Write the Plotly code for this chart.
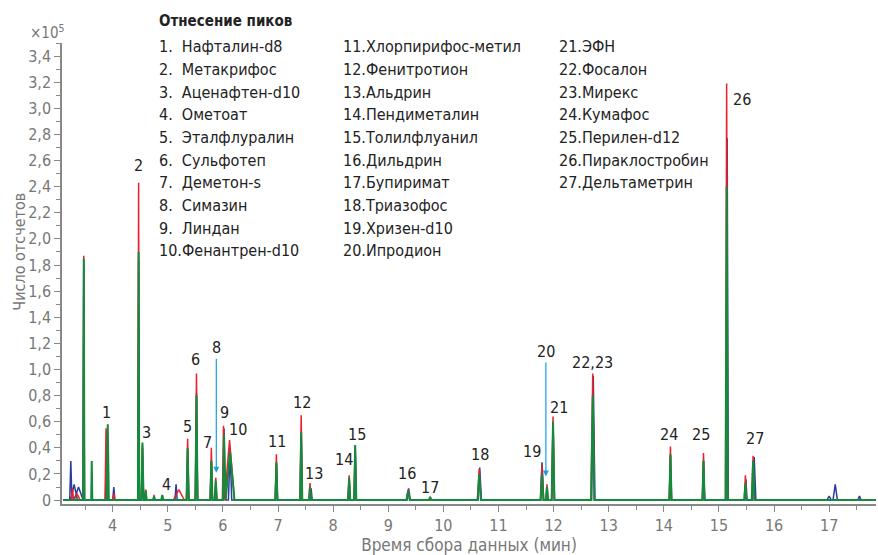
import plotly.graph_objects as go

# ---------------- data ----------------
# Peak tables per trace: retention time (min), height (x10^5 counts), half-width (min)
blue_rt = [3.24, 3.30, 3.38, 3.475, 3.89, 4.02, 4.47, 4.54, 5.15, 5.36, 5.52, 5.79, 6.02, 6.13,
           6.97, 7.42, 7.60, 8.29, 8.40, 9.37, 10.66, 11.79, 11.99, 12.72, 14.12, 14.72, 15.15,
           15.49, 15.64, 17.00, 17.11, 17.55]
blue_h = [0.30, 0.12, 0.10, 1.80, 0.53, 0.10, 1.83, 0.40, 0.12, 0.38, 0.82, 0.30, 0.55, 0.39,
          0.28, 0.50, 0.09, 0.17, 0.42, 0.09, 0.25, 0.29, 0.58, 0.95, 0.34, 0.30, 2.77,
          0.16, 0.33, 0.03, 0.12, 0.03]
blue_w = [0.02, 0.06, 0.08, 0.012, 0.02, 0.02, 0.012, 0.02, 0.02, 0.02, 0.02, 0.02, 0.02, 0.03,
          0.02, 0.02, 0.02, 0.02, 0.02, 0.03, 0.03, 0.03, 0.025, 0.03, 0.02, 0.02, 0.02,
          0.02, 0.03, 0.04, 0.04, 0.03]

red_rt = [3.27, 3.35, 3.475, 3.88, 4.02, 4.47, 4.54, 4.60, 4.75, 5.20, 5.36, 5.52, 5.79, 5.87,
          6.01, 6.12, 6.97, 7.42, 7.58, 8.29, 8.40, 9.36, 10.65, 11.79, 11.88, 11.99, 12.71,
          14.12, 14.72, 15.14, 15.48, 15.62]
red_h = [0.09, 0.05, 1.87, 0.55, 0.05, 2.43, 0.42, 0.08, 0.04, 0.08, 0.47, 0.97, 0.40, 0.17,
         0.57, 0.46, 0.35, 0.65, 0.13, 0.19, 0.40, 0.08, 0.24, 0.27, 0.12, 0.64, 0.97,
         0.41, 0.36, 3.19, 0.19, 0.34]
red_w = [0.02, 0.06, 0.012, 0.02, 0.02, 0.012, 0.02, 0.015, 0.015, 0.1, 0.02, 0.02, 0.02, 0.02,
         0.02, 0.09, 0.02, 0.02, 0.02, 0.02, 0.02, 0.03, 0.03, 0.025, 0.02, 0.025, 0.03,
         0.02, 0.02, 0.02, 0.02, 0.025]

green_rt = [3.475, 3.62, 3.91, 4.47, 4.54, 4.60, 4.75, 4.90, 5.36, 5.52, 5.79, 5.87, 6.02, 6.13,
            6.97, 7.42, 7.58, 8.29, 8.40, 9.36, 9.76, 10.65, 11.79, 11.88, 11.99, 12.71, 14.12,
            14.72, 15.14, 15.48, 15.62]
green_h = [1.85, 0.30, 0.58, 1.90, 0.44, 0.07, 0.03, 0.04, 0.40, 0.80, 0.30, 0.15, 0.50, 0.37,
           0.29, 0.52, 0.10, 0.17, 0.42, 0.07, 0.02, 0.20, 0.20, 0.10, 0.60, 0.80, 0.35,
           0.30, 2.40, 0.13, 0.30]
green_w = [0.012, 0.01, 0.02, 0.012, 0.02, 0.015, 0.015, 0.02, 0.02, 0.02, 0.02, 0.02, 0.02, 0.08,
           0.02, 0.02, 0.02, 0.02, 0.02, 0.03, 0.03, 0.03, 0.025, 0.02, 0.025, 0.03, 0.02,
           0.02, 0.02, 0.02, 0.025]

peak_labels = ["1", "2", "3", "4", "5", "6", "7", "9", "10", "11", "12", "13", "14", "15",
               "16", "17", "18", "19", "21", "22,23", "24", "25", "26", "27"]
label_rt = [3.89, 4.47, 4.61, 4.97, 5.36, 5.50, 5.72, 6.02, 6.27, 6.99, 7.44, 7.66, 8.20, 8.44,
            9.34, 9.76, 10.66, 11.60, 12.09, 12.71, 14.10, 14.68, 15.42, 15.66]
label_h = [0.67, 2.56, 0.52, 0.12, 0.56, 1.08, 0.44, 0.67, 0.54, 0.45, 0.75, 0.20, 0.31, 0.50,
           0.20, 0.10, 0.35, 0.37, 0.71, 1.05, 0.50, 0.50, 3.07, 0.47]

arrow_labels = ["8", "20"]
arrow_rt = [5.88, 11.86]
arrow_h = [0.21, 0.18]

legend_col1 = ["1.  Нафталин-d8", "2.  Метакрифос", "3.  Аценафтен-d10", "4.  Ометоат",
               "5.  Эталфлуралин", "6.  Сульфотеп", "7.  Деметон-s", "8.  Симазин",
               "9.  Линдан", "10.Фенантрен-d10"]
legend_col2 = ["11.Хлорпирифос-метил", "12.Фенитротион", "13.Альдрин", "14.Пендиметалин",
               "15.Толилфлуанил", "16.Дильдрин", "17.Бупиримат", "18.Триазофос",
               "19.Хризен-d10", "20.Ипродион"]
legend_col3 = ["21.ЭФН", "22.Фосалон", "23.Мирекс", "24.Кумафос", "25.Перилен-d12",
               "26.Пираклостробин", "27.Дельтаметрин"]

y_ticks = [0, 0.2, 0.4, 0.6, 0.8, 1.0, 1.2, 1.4, 1.6, 1.8, 2.0, 2.2, 2.4, 2.6, 2.8, 3.0, 3.2, 3.4]
y_ticktext = ["0" if v == 0 else f"{v:.1f}".replace(".", ",") for v in y_ticks]
x_ticks = list(range(4, 18))

X_START, X_END = 3.1, 17.9


def build(rts, hs, ws):
    xs, ys = [X_START], [0.0]
    for t, h, w in sorted(zip(rts, hs, ws)):
        xs += [t - w, t, t + w]
        ys += [0.0, h, 0.0]
    xs.append(X_END)
    ys.append(0.0)
    return xs, ys


FONT = "DejaVu Sans Condensed, Roboto, sans-serif"
fig = go.Figure()
for name, rts, hs, ws, col, lw in [("blue", blue_rt, blue_h, blue_w, "#2a3c9c", 1.5),
                                   ("red", red_rt, red_h, red_w, "#e8212b", 1.5),
                                   ("green", green_rt, green_h, green_w, "#168a3c", 2.0)]:
    xs, ys = build(rts, hs, ws)
    fig.add_trace(go.Scatter(x=xs, y=ys, mode="lines", name=name,
                             line=dict(color=col, width=lw), hoverinfo="skip"))

W, H = 878, 555
L, R, T, B = 62, 2, 43, 48
pw, ph = W - L - R, H - T - B


def px(x):
    return (x - L) / pw


def py(y):
    return (H - B - y) / ph


LAB = dict(family=FONT, size=16, color="#222")
annotations = []
for lab, t, h in zip(peak_labels, label_rt, label_h):
    annotations.append(dict(x=t, y=h, xref="x", yref="y", text=lab, showarrow=False, font=LAB))
for lab, t, h in zip(arrow_labels, arrow_rt, arrow_h):
    annotations.append(dict(x=t, y=h, xref="x", yref="y", text=lab, showarrow=True,
                            arrowhead=2, arrowsize=1, arrowwidth=1.2, arrowcolor="#1aa0e0",
                            ax=0, ay=-125, font=LAB))

LEG = dict(family=FONT, size=16, color="#222")
annotations.append(dict(x=px(157), y=py(21), xref="paper", yref="paper",
                        text="<b>Отнесение пиков</b>", showarrow=False,
                        xanchor="left", yanchor="middle",
                        font=dict(family=FONT, size=15, color="#222")))
for col_x, col in [(157, legend_col1), (341, legend_col2), (557, legend_col3)]:
    for i, txt in enumerate(col):
        annotations.append(dict(x=px(col_x), y=py(47 + i * 22.8), xref="paper", yref="paper",
                                text=txt, showarrow=False, xanchor="left", yanchor="middle",
                                font=LEG))
annotations.append(dict(x=px(28), y=py(32), xref="paper", yref="paper",
                        text="×10<sup>5</sup>", showarrow=False, xanchor="left", yanchor="middle",
                        font=dict(family=FONT, size=15, color="#777")))
annotations.append(dict(x=px(20), y=py(253), xref="paper", yref="paper",
                        text="Число отсчетов", textangle=-90, showarrow=False,
                        xanchor="center", yanchor="middle",
                        font=dict(family=FONT, size=16, color="#777")))

fig.update_layout(
    width=W, height=H, margin=dict(l=L, r=R, t=T, b=B),
    plot_bgcolor="white", paper_bgcolor="white", showlegend=False,
    annotations=annotations,
    font=dict(family=FONT, color="#777"),
    xaxis=dict(range=[3.08, 17.85], tickvals=x_ticks, ticks="outside", ticklen=6,
               tickcolor="#888", showline=True, linecolor="#888", linewidth=1.5,
               showgrid=False, zeroline=False, tickfont=dict(size=16, color="#777"),
               minor=dict(dtick=0.5, tick0=0, ticks="outside", ticklen=4, tickcolor="#888"),
               title=dict(text="Время сбора данных (мин)", font=dict(size=17, color="#777"),
                          standoff=6)),
    yaxis=dict(range=[-0.03, 3.5], tickvals=y_ticks, ticktext=y_ticktext, ticks="outside",
               ticklen=6, tickcolor="#888", showline=True, linecolor="#888", linewidth=1.5,
               showgrid=False, zeroline=False, tickfont=dict(size=16, color="#777"),
               minor=dict(dtick=0.1, tick0=0, ticks="outside", ticklen=4, tickcolor="#888")),
)

fig.write_html("out.html", config={"displayModeBar": False},
               post_script="document.body.style.margin='0';")
